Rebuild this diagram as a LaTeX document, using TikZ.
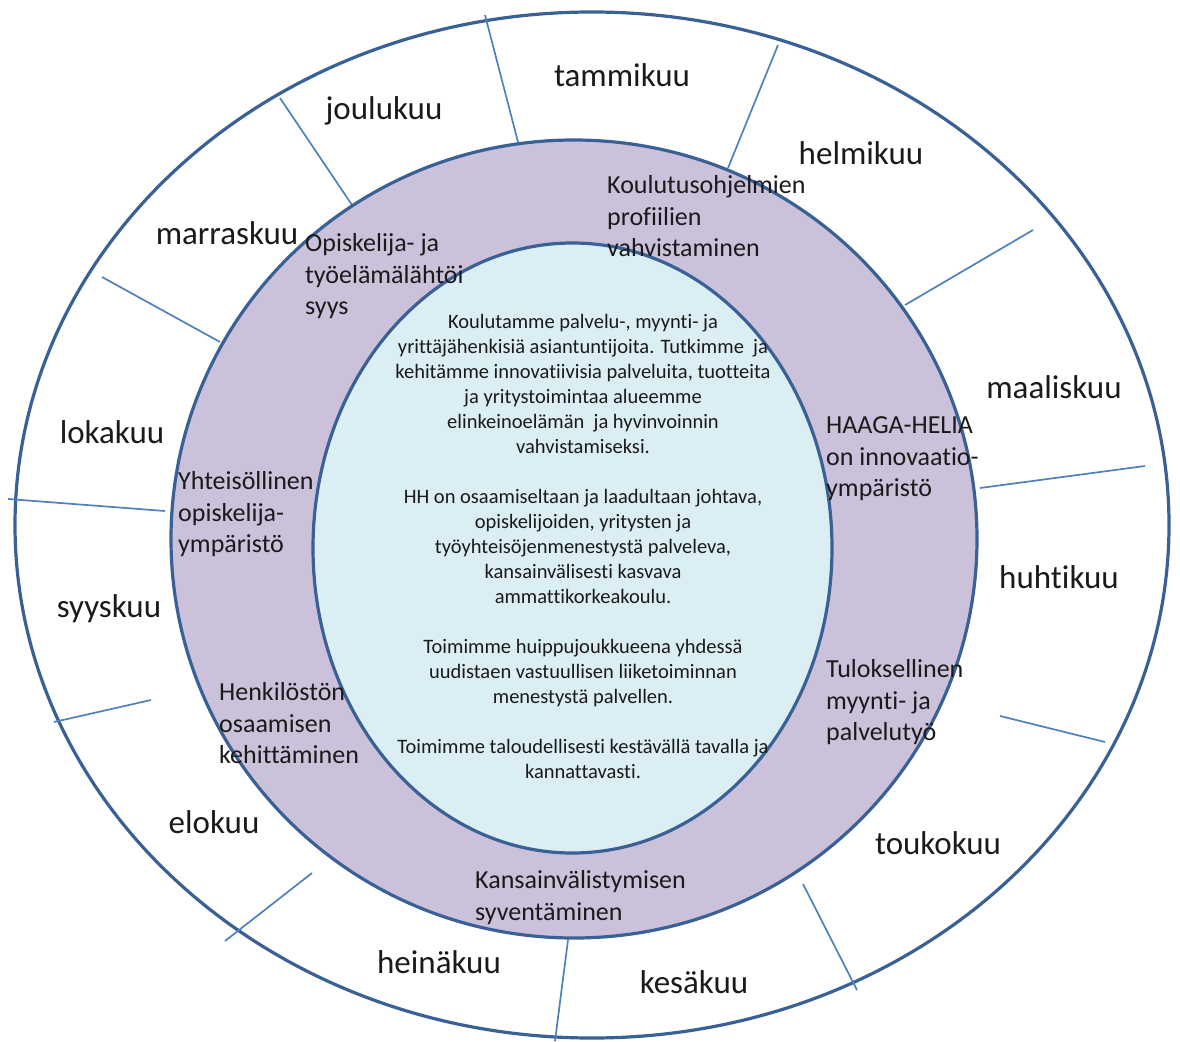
\documentclass[tikz,border=0pt]{standalone}
\usepackage{fontspec}
\setmainfont{Carlito}[Ligatures={NoCommon}]
\definecolor{ringline}{HTML}{3A6195}
\definecolor{divline}{HTML}{4F81BD}
\definecolor{ringfill}{HTML}{CCC1DA}
\definecolor{corefill}{HTML}{DBEEF4}
\definecolor{txt}{HTML}{1A1A1A}
\begin{document}
\begin{tikzpicture}[x=1pt,y=-1pt,
  month/.style={anchor=base, inner sep=0pt, text=txt, font=\fontsize{33}{40}\selectfont},
  ringtext/.style={anchor=north west, inner sep=0pt, align=left, text=txt, font=\fontsize{26}{31.7}\selectfont},
  coretext/.style={anchor=north, inner sep=0pt, align=center, text=txt, font=\fontsize{20.5}{25}\selectfont},
  divider/.style={draw=divline, line width=1.7pt},
  ellipseline/.style={draw=ringline, line width=3.2pt}]
\useasboundingbox (0,0) rectangle (1180,1041);
\fill[white] (0,0) rectangle (1180,1041);
% outer ring
\draw[ellipseline, fill=white] (592,525) ellipse [x radius=577, y radius=513];
% month dividers
\coordinate (d1a) at (485,15);   \coordinate (d1b) at (518,142);
\coordinate (d2a) at (778,45);   \coordinate (d2b) at (728,168);
\coordinate (d3a) at (1033,230); \coordinate (d3b) at (905,305);
\coordinate (d4a) at (1145,466); \coordinate (d4b) at (980,488);
\coordinate (d5a) at (1000,716); \coordinate (d5b) at (1105,742);
\coordinate (d6a) at (803,884);  \coordinate (d6b) at (857,990);
\coordinate (d7a) at (568,940);  \coordinate (d7b) at (555,1041);
\coordinate (d8a) at (312,873);  \coordinate (d8b) at (225,941);
\coordinate (d9a) at (151,700);  \coordinate (d9b) at (54,722);
\coordinate (d10a) at (8,499);   \coordinate (d10b) at (165,511);
\coordinate (d11a) at (102,277); \coordinate (d11b) at (220,342);
\coordinate (d12a) at (280,98);  \coordinate (d12b) at (352,205);
\foreach \i in {1,...,12} {\draw[divider] (d\i a) -- (d\i b);}
% middle and inner rings
\draw[ellipseline, fill=ringfill] (574,539) ellipse [x radius=403, y radius=399];
\draw[ellipseline, fill=corefill] (572.5,548) ellipse [x radius=259.5, y radius=305];
% months
\node[month] (m01) at (622,86)  {tammikuu};
\node[month] (m02) at (861,164) {helmikuu};
\node[month] (m03) at (1054,398) {maaliskuu};
\node[month] (m04) at (1059,588) {huhtikuu};
\node[month] (m05) at (938,854) {toukokuu};
\node[month] (m06) at (694,993) {kesäkuu};
\node[month] (m07) at (439,973) {heinäkuu};
\node[month] (m08) at (214,833) {elokuu};
\node[month] (m09) at (109,617) {syyskuu};
\node[month] (m10) at (112,443) {lokakuu};
\node[month] (m11) at (227,244) {marraskuu};
\node[month] (m12) at (384,119) {joulukuu};
% ring texts
\node[ringtext] (r1) at (305,229) {\strut Opiskelija- ja\\työelämälähtöi\\syys};
\node[ringtext] (r2) at (607,171) {\strut Koulutusohjelmien\\profiilien\\vahvistaminen};
\node[ringtext] (r3) at (826,411) {\strut HAAGA-HELIA\\on innovaatio-\\ympäristö};
\node[ringtext] (r4) at (826,655) {\strut Tuloksellinen\\myynti- ja\\palvelutyö};
\node[ringtext] (r5) at (475,866) {\strut Kansainvälistymisen\\syventäminen};
\node[ringtext] (r6) at (219,678) {\strut Henkilöstön\\osaamisen\\kehittäminen};
\node[ringtext] (r7) at (178,467) {\strut Yhteisöllinen\\opiskelija-\\ympäristö};
% core text
\node[coretext] (core) at (583,311) {\strut Koulutamme palvelu-, myynti- ja\\
yrittäjähenkisiä asiantuntijoita. Tutkimme\ \ ja\\
kehitämme innovatiivisia palveluita, tuotteita\\
ja yritystoimintaa alueemme\\
elinkeinoelämän\ \ ja hyvinvoinnin\\
vahvistamiseksi.\\[25pt]
HH on osaamiseltaan ja laadultaan johtava,\\
opiskelijoiden, yritysten ja\\
työyhteisöjenmenestystä palveleva,\\
kansainvälisesti kasvava\\
ammattikorkeakoulu.\\[25pt]
Toimimme huippujoukkueena yhdessä\\
uudistaen vastuullisen liiketoiminnan\\
menestystä palvellen.\\[25pt]
Toimimme taloudellisesti kestävällä tavalla ja\\
kannattavasti.};
\end{tikzpicture}
\end{document}
